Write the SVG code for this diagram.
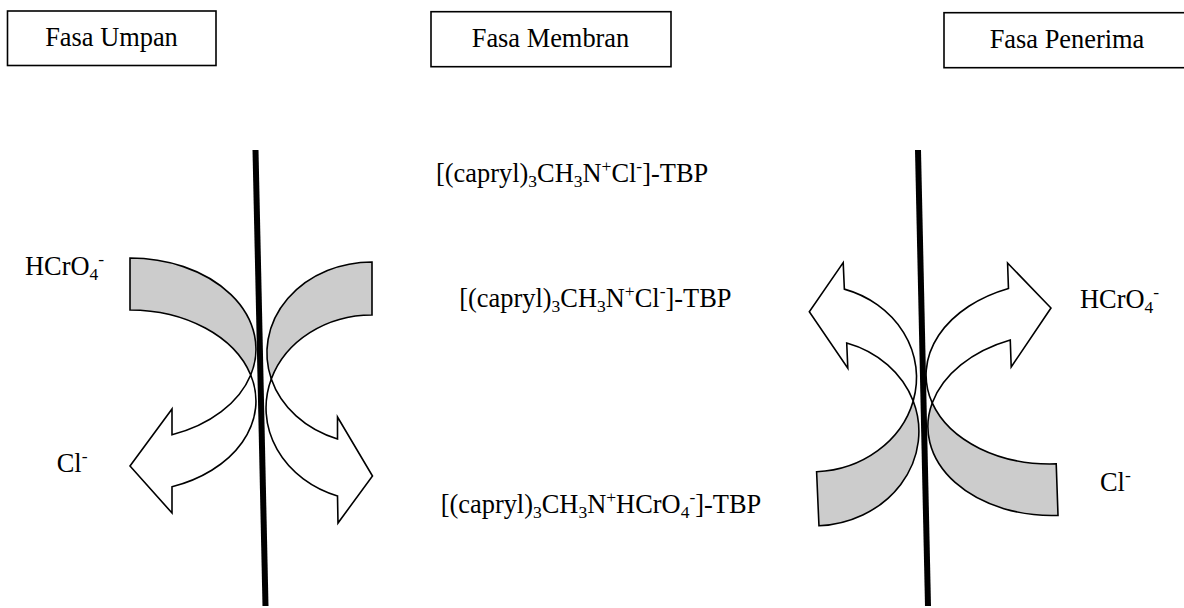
<svg xmlns="http://www.w3.org/2000/svg" width="1184" height="608" viewBox="0 0 1184 608">
<style>
text{font-family:"Liberation Serif","Times New Roman",serif;font-size:26.4px;fill:#000}
.ss{font-size:17.5px}
.box{fill:#fff;stroke:#000;stroke-width:1.6}
.tail{fill:#cccccc;stroke:#000;stroke-width:1.6;stroke-linejoin:miter}
.head{fill:#fff;stroke:#000;stroke-width:1.6;stroke-linejoin:miter}
.mem{stroke:#000;stroke-width:6;fill:none}
</style>
<rect width="1184" height="608" fill="#fff"/>

<g id="box-umpan">
<rect class="box" x="7.5" y="11" width="208.5" height="54.5"/>
<text x="111.5" y="46" text-anchor="middle">Fasa Umpan</text>
</g>
<g id="box-membran">
<rect class="box" x="431" y="11.7" width="240" height="55"/>
<text x="550.5" y="46.7" text-anchor="middle">Fasa Membran</text>
</g>
<g id="box-penerima">
<rect class="box" x="944" y="12.7" width="250" height="55"/>
<text x="1067" y="47.7" text-anchor="middle">Fasa Penerima</text>
</g>

<g id="connectors">
<g id="feed-arrow">
<path class="tail" d="M130,258 A126,91 0 0,1 250.7,375 A126,91 0 0,0 130,310 Z"/>
<path class="head" d="M250.7,375 A126,91 0 0,1 172,434.8 L172,409 L130,466 L172,513 L172,486.8 A126,91 0 0,0 250.7,375 Z"/>
</g>
<g id="membrane-arrow">
<path class="tail" d="M372,262 A105,91 0 0,0 271.3,379 A106,93 0 0,1 372,315 Z"/>
<path class="head" d="M271.3,379 A105,91 0 0,0 337.5,438.9 L337.5,417 L372.5,476 L338,523 L337.5,495.9 A106,93 0 0,1 271.3,379 Z"/>
</g>
<g id="strip-left-arrow" transform="rotate(-2.5 868 395)">
<path class="tail" d="M813.3,469.5 L813.3,523.5 A104,93.5 0 0,0 912.9,403 A104,93.5 0 0,1 813.3,469.5 Z"/>
<path class="head" d="M912.9,403 A104,93.5 0 0,0 849,288.2 L849,261.7 L813,309.2 L849,367.4 L849,342.2 A104,93.5 0 0,1 912.9,403 Z"/>
</g>
<g id="strip-right-arrow" transform="rotate(-2 995 390)">
<path class="tail" d="M1053.6,466 L1053.6,517.5 A127,91 0 0,1 931.8,400.75 A127,91 0 0,0 1053.6,466 Z"/>
<path class="head" d="M931.8,400.75 A127,91 0 0,1 1012,289 L1012,263.5 L1053.8,310 L1012,367.6 L1012,340.5 A127,91 0 0,0 931.8,400.75 Z"/>
</g>
</g>

<g id="membranes">
<line class="mem" x1="255.5" y1="150" x2="265.5" y2="606"/>
<line class="mem" x1="918" y1="150" x2="928" y2="606"/>
</g>

<g id="label-feed-hcro4">
<text x="25" y="275">HCrO<tspan class="ss" dy="5">4</tspan><tspan class="ss" dy="-15">-</tspan></text>
</g>
<g id="label-feed-cl">
<text x="56.7" y="472">Cl<tspan class="ss" dy="-10">-</tspan></text>
</g>
<g id="label-strip-hcro4">
<text x="1080" y="308">HCrO<tspan class="ss" dy="5">4</tspan><tspan class="ss" dy="-15">-</tspan></text>
</g>
<g id="label-strip-cl">
<text x="1100" y="491">Cl<tspan class="ss" dy="-10">-</tspan></text>
</g>

<g id="complex-1">
<text x="436" y="182">[(capryl)<tspan class="ss" dy="5">3</tspan><tspan dy="-5">CH</tspan><tspan class="ss" dy="5">3</tspan><tspan dy="-5">N</tspan><tspan class="ss" dy="-10">+</tspan><tspan dy="10">Cl</tspan><tspan class="ss" dy="-10">-</tspan><tspan dy="10">]-TBP</tspan></text>
</g>
<g id="complex-2">
<text x="459.3" y="306.7">[(capryl)<tspan class="ss" dy="5">3</tspan><tspan dy="-5">CH</tspan><tspan class="ss" dy="5">3</tspan><tspan dy="-5">N</tspan><tspan class="ss" dy="-10">+</tspan><tspan dy="10">Cl</tspan><tspan class="ss" dy="-10">-</tspan><tspan dy="10">]-TBP</tspan></text>
</g>
<g id="complex-3">
<text x="440.7" y="512.7">[(capryl)<tspan class="ss" dy="5">3</tspan><tspan dy="-5">CH</tspan><tspan class="ss" dy="5">3</tspan><tspan dy="-5">N</tspan><tspan class="ss" dy="-10">+</tspan><tspan dy="10">HCrO</tspan><tspan class="ss" dy="5">4</tspan><tspan class="ss" dy="-15">-</tspan><tspan dy="10">]-TBP</tspan></text>
</g>
</svg>
